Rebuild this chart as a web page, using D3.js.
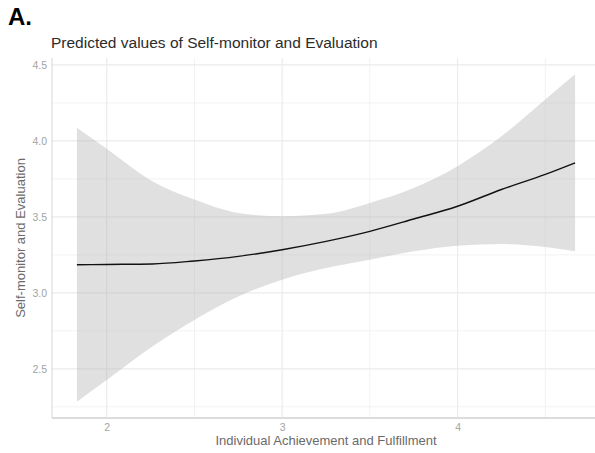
<!DOCTYPE html>
<html>
<head>
<meta charset="utf-8">
<script src="https://cdn.jsdelivr.net/npm/d3@7"></script>
<style>
  body { margin: 0; background: #fff; }
  text { font-family: "Liberation Sans", Arial, sans-serif; }
</style>
</head>
<body>
<div id="chart"></div>
<script>
// values
var xVals   = [1.83, 2.0, 2.26, 2.5, 2.75, 3.0, 3.25, 3.5, 3.75, 4.0, 4.25, 4.5, 4.67];
var fitted  = [3.185, 3.187, 3.19, 3.21, 3.24, 3.284, 3.339, 3.405, 3.486, 3.57, 3.68, 3.78, 3.856];
var upper   = [4.087, 3.948, 3.735, 3.614, 3.526, 3.504, 3.52, 3.592, 3.69, 3.834, 4.03, 4.273, 4.438];
var lower   = [2.284, 2.427, 2.647, 2.822, 2.976, 3.086, 3.163, 3.218, 3.273, 3.31, 3.321, 3.302, 3.273];
var xTicks  = [2, 3, 4];
var xMinor  = [2.5, 3.5, 4.5];
var yTicks  = [2.5, 3.0, 3.5, 4.0, 4.5];
var yMinor  = [2.25, 2.75, 3.25, 3.75, 4.25];

var title = "Predicted values of Self-monitor and Evaluation",
    xLabel = "Individual Achievement and Fulfillment",
    yLabel = "Self-monitor and Evaluation";

var W = 595, H = 453,
    pLeft = 52, pRight = 600, pTop = 58, pBottom = 418;

var svg = d3.select("#chart").append("svg").attr("width", W).attr("height", H);

var data = xVals.map(function(x, i) { return {x: x, y: fitted[i], lo: lower[i], hi: upper[i]}; });

// ggplot style 5% expansion
var xr = d3.extent(xVals), xp = (xr[1] - xr[0]) * 0.05;
var yr = [d3.min(lower), d3.max(upper)], yp = (yr[1] - yr[0]) * 0.05;

var x = d3.scaleLinear().domain([xr[0] - xp, xr[1] + xp]).range([pLeft, pRight]);
var y = d3.scaleLinear().domain([yr[0] - yp, yr[1] + yp]).range([pBottom, pTop]);

var grid = svg.append("g");
grid.selectAll(".xminor").data(xMinor).enter().append("line")
    .attr("x1", d => x(d)).attr("x2", d => x(d)).attr("y1", pTop).attr("y2", pBottom)
    .attr("stroke", "#f2f2f2").attr("stroke-width", 1);
grid.selectAll(".yminor").data(yMinor).enter().append("line")
    .attr("y1", d => y(d)).attr("y2", d => y(d)).attr("x1", pLeft).attr("x2", pRight)
    .attr("stroke", "#f2f2f2").attr("stroke-width", 1);
grid.selectAll(".xmajor").data(xTicks).enter().append("line")
    .attr("x1", d => x(d)).attr("x2", d => x(d)).attr("y1", pTop).attr("y2", pBottom)
    .attr("stroke", "#ebebeb").attr("stroke-width", 1.2);
grid.selectAll(".ymajor").data(yTicks).enter().append("line")
    .attr("y1", d => y(d)).attr("y2", d => y(d)).attr("x1", pLeft).attr("x2", pRight)
    .attr("stroke", "#ebebeb").attr("stroke-width", 1.2);

// confidence band
svg.append("path").datum(data)
    .attr("fill", "#b5b5b5").attr("fill-opacity", 0.42)
    .attr("d", d3.area().x(d => x(d.x)).y0(d => y(d.lo)).y1(d => y(d.hi)).curve(d3.curveMonotoneX));

// predicted line
svg.append("path").datum(data)
    .attr("fill", "none").attr("stroke", "#111").attr("stroke-width", 1.4)
    .attr("d", d3.line().x(d => x(d.x)).y(d => y(d.y)).curve(d3.curveMonotoneX));

// axis lines
svg.append("line").attr("x1", pLeft).attr("x2", pLeft).attr("y1", pTop).attr("y2", pBottom)
    .attr("stroke", "#d6d6d6").attr("stroke-width", 1);
svg.append("line").attr("x1", pLeft).attr("x2", pRight).attr("y1", pBottom).attr("y2", pBottom)
    .attr("stroke", "#dcdcdc").attr("stroke-width", 2);

// tick labels
var yAxis = svg.append("g").attr("transform", "translate(" + pLeft + ",0)")
    .call(d3.axisLeft(y).tickValues(yTicks).tickFormat(d3.format(".1f")).tickSize(0).tickPadding(5));
var xAxis = svg.append("g").attr("transform", "translate(0," + pBottom + ")")
    .call(d3.axisBottom(x).tickValues(xTicks).tickFormat(d3.format("d")).tickSize(0).tickPadding(6));
[xAxis, yAxis].forEach(function(a) {
    a.select(".domain").remove();
    a.selectAll("text").attr("fill", "#a3a3a3").style("font-size", "10.5px")
        .style("font-family", "'Liberation Sans', Arial, sans-serif");
});

// labels
svg.append("text").attr("x", 8).attr("y", 25).text("A.")
    .style("font-size", "24px").style("font-weight", "bold").attr("fill", "#000");
svg.append("text").attr("x", 51).attr("y", 48).text(title)
    .style("font-size", "15.5px").attr("fill", "#2b2b2b");
svg.append("text").attr("x", (pLeft + pRight) / 2).attr("y", 445).attr("text-anchor", "middle")
    .text(xLabel).style("font-size", "13px").attr("fill", "#6a6a6a");
svg.append("text").attr("transform", "translate(25," + (pTop + pBottom) / 2 + ") rotate(-90)")
    .attr("text-anchor", "middle").text(yLabel).style("font-size", "13px").attr("fill", "#6a6a6a");
</script>
</body>
</html>
